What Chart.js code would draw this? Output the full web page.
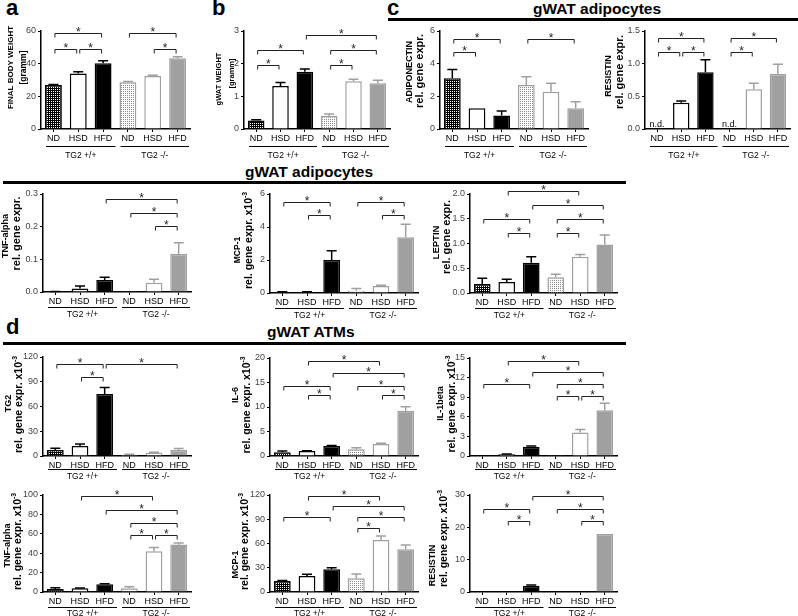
<!DOCTYPE html>
<html>
<head>
<meta charset="utf-8">
<script src="https://cdn.jsdelivr.net/npm/chart.js@4.4.0/dist/chart.umd.min.js"></script>
<style>
  body { margin: 0; width: 798px; height: 616px; background: #fff; position: relative; overflow: hidden;
         font-family: 'Liberation Sans', Arial, sans-serif; }
  canvas { position: absolute; }
  .lbl { position: absolute; font-weight: bold; line-height: 1; color: #000; white-space: nowrap; }
  .rule { position: absolute; height: 3px; background: #000; }
</style>
</head>
<body>
<div class="lbl" style="left:6px;top:-3px;font-size:22px">a</div>
<div class="lbl" style="left:212px;top:-3px;font-size:22px">b</div>
<div class="lbl" style="left:387px;top:-3px;font-size:22px">c</div>
<div class="lbl" style="left:6px;top:316px;font-size:22px">d</div>
<div class="lbl" style="left:533px;top:1px;font-size:15.5px">gWAT adipocytes</div>
<div class="lbl" style="left:245px;top:164px;font-size:15.5px">gWAT adipocytes</div>
<div class="lbl" style="left:267px;top:324px;font-size:15.5px">gWAT ATMs</div>
<div class="rule" style="left:388px;top:18px;width:410px"></div>
<div class="rule" style="left:3px;top:181px;width:623px"></div>
<div class="rule" style="left:3px;top:342px;width:623px"></div>

<script>
const categories = ['ND', 'HSD', 'HFD', 'ND', 'HSD', 'HFD'];
const genotypes = ['TG2 +/+', 'TG2 -/-'];

// significance brackets: [from bar, to bar, height in axis units]
const bodyWeight = [27.0, 34.0, 40.2, 28.6, 32.5, 43.3];
const bodyWeightSem = [0.3, 1.0, 1.6, 0.5, 0.4, 1.0];
const bodyWeightSig = [[0, 2, 58.6], [0, 1, 49], [1, 2, 49], [3, 5, 58.6], [4, 5, 49]];

const gwatWeight = [0.26, 1.32, 1.75, 0.40, 1.46, 1.40];
const gwatWeightSem = [0.02, 0.10, 0.09, 0.06, 0.06, 0.09];
const gwatWeightSig = [[2, 5, 2.88], [0, 2, 2.42], [0, 1, 1.97], [3, 5, 2.42], [3, 4, 1.97]];

const adiponectin = [3.10, 1.27, 0.82, 2.69, 2.28, 1.27];
const adiponectinSem = [0.55, 0, 0.28, 0.51, 0.52, 0.40];
const adiponectinSig = [[0, 2, 5.49], [0, 1, 4.73], [3, 5, 5.49]];

const resistinAdipo = [null, 0.40, 0.87, null, 0.61, 0.84];
const resistinAdipoSem = [0, 0.03, 0.19, 0, 0.09, 0.15];
const resistinAdipoSig = [[0, 2, 1.39], [0, 1, 1.18], [1, 2, 1.18], [3, 5, 1.39], [3, 4, 1.18]];

const tnfAdipo = [0.001, 0.011, 0.037, 0.0005, 0.028, 0.116];
const tnfAdipoSem = [0.0005, 0.007, 0.008, 0, 0.011, 0.035];
const tnfAdipoSig = [[2, 5, 0.284], [3, 5, 0.243], [4, 5, 0.202]];

const mcpAdipo = [0.05, 0.05, 2.0, 0.14, 0.42, 3.38];
const mcpAdipoSem = [0.02, 0.02, 0.56, 0.14, 0.05, 0.78];
const mcpAdipoSig = [[0, 2, 5.53], [1, 2, 4.73], [3, 5, 5.53], [4, 5, 4.73]];

const leptin = [0.18, 0.22, 0.61, 0.32, 0.73, 0.98];
const leptinSem = [0.12, 0.06, 0.12, 0.06, 0.05, 0.19];
const leptinSig = [[1, 4, 2.06], [2, 5, 1.78], [0, 2, 1.49], [1, 2, 1.22], [3, 5, 1.49], [3, 4, 1.22]];

const tg2 = [7.3, 12.1, 75.2, 1.6, 4.0, 7.3];
const tg2Sem = [2.0, 2.4, 7.8, 0.4, 0.5, 1.7];
const tg2Sig = [[0, 2, 111.5], [2, 5, 111.5], [1, 2, 95.4]];

const il6 = [0.75, 1.0, 2.04, 1.37, 2.45, 9.25];
const il6Sem = [0.25, 0.08, 0.12, 0.33, 0.15, 0.82];
const il6Sig = [[1, 4, 19.4], [2, 5, 17.0], [0, 2, 14.3], [3, 5, 14.3], [1, 2, 12.4], [4, 5, 12.4]];

const il1b = [0.02, 0.26, 1.43, 0.02, 3.6, 7.0];
const il1bSem = [0, 0.03, 0.1, 0, 0.46, 1.07];
const il1bSig = [[1, 4, 14.6], [2, 5, 12.85], [0, 2, 11.0], [3, 5, 11.0], [3, 4, 9.2], [4, 5, 9.2]];

const tnfAtm = [3.1, 3.8, 7.9, 3.8, 42, 48.9];
const tnfAtmSem = [1.3, 0.4, 0.6, 1.6, 3.8, 1.7];
const tnfAtmSig = [[1, 4, 98.5], [2, 5, 84.1], [3, 5, 71.5], [3, 4, 58.5], [4, 5, 58.5]];

const mcpAtm = [13.6, 19.8, 28.1, 17, 64.4, 52.8];
const mcpAtmSem = [0.5, 2.1, 1.9, 5.3, 4.9, 5.4];
const mcpAtmSig = [[1, 4, 118.8], [2, 5, 106.8], [0, 2, 93.2], [3, 5, 93.2], [3, 4, 79.6]];

const resistinAtm = [0, 0, 1.95, 0, 0, 17.9];
const resistinAtmSem = [0, 0, 0.2, 0, 0, 0];
const resistinAtmSig = [[2, 5, 29.7], [0, 2, 25.7], [3, 5, 25.7], [1, 2, 22.0], [4, 5, 22.0]];

const FONT = "'Liberation Sans', Arial, sans-serif";
const YW = 48, PT = 16, PR = 6, XH = 34;
const rowGeom = [{ line: 17, label: 26.5 }, { line: 15, label: 23 }, { line: 13, label: 21 }, { line: 15, label: 21.5 }];

function hatch(bg, fg, dots) {
    const c = document.createElement('canvas');
    c.width = 4; c.height = 4;
    const g = c.getContext('2d');
    g.fillStyle = bg; g.fillRect(0, 0, 4, 4);
    g.fillStyle = fg;
    dots.forEach(d => g.fillRect(d[0], d[1], 1, 1));
    return g.createPattern(c, 'repeat');
}
const grid4 = [[0, 0], [2, 0], [0, 2], [2, 2]];
const fills = [hatch('#000', '#fff', grid4), '#fff', '#000', hatch('#fff', '#8a8a8a', grid4), '#fff', '#a0a0a0'];
const edges = ['#000', '#000', '#000', '#a0a0a0', '#a0a0a0', '#a0a0a0'];

// titles: [text, font size, x offset from axis, y offset from plot centre, superscript]
const panels = [
    { id: 'a', values: bodyWeight, sem: bodyWeightSem, sig: bodyWeightSig, row: 0,
      axisX: 41, top: 31, zero: 129, right: 190, max: 60, step: 20, dec: 0,
      titles: [['FINAL BODY WEIGHT', 8, -30.5, -12.5], ['[gramm]', 8.5, -17, -12.5]] },
    { id: 'b', values: gwatWeight, sem: gwatWeightSem, sig: gwatWeightSig, row: 0,
      axisX: 244, top: 31, zero: 129, right: 390, max: 3, step: 1, dec: 0,
      titles: [['gWAT WEIGHT', 7.5, -25, -1], ['[gramm]', 7.5, -12, -6.5]] },
    { id: 'adipo', values: adiponectin, sem: adiponectinSem, sig: adiponectinSig, row: 0,
      axisX: 440, top: 31, zero: 129, right: 588, max: 6, step: 2, dec: 0,
      titles: [['ADIPONECTIN', 9, -30.5, -8], ['rel. gene expr.', 11, -20, -9]] },
    { id: 'resA', values: resistinAdipo, sem: resistinAdipoSem, sig: resistinAdipoSig, row: 0,
      axisX: 645, top: 31, zero: 129, right: 790, max: 1.5, step: 0.5, dec: 1,
      titles: [['RESISTIN', 9, -36, -4], ['rel. gene expr.', 11, -25, -8]] },
    { id: 'tnfA', values: tnfAdipo, sem: tnfAdipoSem, sig: tnfAdipoSig, row: 1,
      axisX: 43, top: 194, zero: 292, right: 191, max: 0.3, step: 0.1, dec: 1,
      titles: [['TNF-alpha', 9, -37, -7], ['rel. gene expr.', 11, -26, -9.5]] },
    { id: 'mcpA', values: mcpAdipo, sem: mcpAdipoSem, sig: mcpAdipoSig, row: 1,
      axisX: 270, top: 194, zero: 293, right: 418, max: 6, step: 2, dec: 0,
      titles: [['MCP-1', 8.5, -32.5, 6.5], ['rel. gene expr. x10', 10.5, -21, -3, '-3']] },
    { id: 'lep', values: leptin, sem: leptinSem, sig: leptinSig, row: 1,
      axisX: 470, top: 194, zero: 293, right: 617, max: 2, step: 0.5, dec: 1,
      titles: [['LEPTIN', 9.5, -34, -1], ['rel. gene expr.', 11, -23, -6.5]] },
    { id: 'tg2', values: tg2, sem: tg2Sem, sig: tg2Sig, row: 2,
      axisX: 43, top: 357, zero: 456, right: 191, max: 120, step: 30, dec: 0,
      titles: [['TG2', 9, -34, -3], ['rel. gene expr. x10', 10.5, -24, -2, '-3']] },
    { id: 'il6', values: il6, sem: il6Sem, sig: il6Sig, row: 2,
      axisX: 270, top: 358, zero: 456, right: 418, max: 20, step: 5, dec: 0,
      titles: [['IL-6', 9, -34, -12], ['rel. gene expr. x10', 10.5, -22.5, -2, '-3']] },
    { id: 'il1b', values: il1b, sem: il1bSem, sig: il1bSig, row: 2,
      axisX: 470, top: 358, zero: 456, right: 617, max: 15, step: 3, dec: 0,
      titles: [['IL-1beta', 9, -29, -3.5], ['rel. gene expr. x10', 10.5, -18, -3, '-3']] },
    { id: 'tnfM', values: tnfAtm, sem: tnfAtmSem, sig: tnfAtmSig, row: 3,
      axisX: 43, top: 495, zero: 592, right: 191, max: 100, step: 20, dec: 0,
      titles: [['TNF-alpha', 9, -35.5, 2], ['rel. gene expr. x10', 10.5, -24.5, -2, '-3']] },
    { id: 'mcpM', values: mcpAtm, sem: mcpAtmSem, sig: mcpAtmSig, row: 3,
      axisX: 270, top: 495, zero: 592, right: 418, max: 120, step: 30, dec: 0,
      titles: [['MCP-1', 9, -34, 21], ['rel. gene expr. x10', 10.5, -25, -2, '-3']] },
    { id: 'resM', values: resistinAtm, sem: resistinAtmSem, sig: resistinAtmSig, row: 3,
      axisX: 470, top: 495, zero: 592, right: 617, max: 30, step: 10, dec: 0,
      titles: [['RESISTIN', 9, -37.5, 22], ['rel. gene expr. x10', 10.5, -26, -5, '-3']] }
];

const extras = {};

const annotate = {
    id: 'annotate',
    afterDraw(chart) {
        const p = extras[chart.canvas.id];
        const ctx = chart.ctx, area = chart.chartArea;
        const xs = chart.scales.x, ys = chart.scales.y;
        const geo = rowGeom[p.row];
        ctx.save();

        // error bars (upper only)
        p.values.forEach((v, i) => {
            if (v == null || !p.sem[i]) return;
            const x = xs.getPixelForValue(i);
            const y1 = ys.getPixelForValue(v), y2 = ys.getPixelForValue(v + p.sem[i]);
            ctx.strokeStyle = edges[i];
            ctx.lineWidth = 1.5;
            ctx.beginPath();
            ctx.moveTo(x, y1); ctx.lineTo(x, y2);
            ctx.moveTo(x - 5, y2); ctx.lineTo(x + 5, y2);
            ctx.stroke();
        });

        // not detected
        ctx.fillStyle = '#000';
        ctx.font = '9px ' + FONT;
        ctx.textAlign = 'center';
        ctx.textBaseline = 'alphabetic';
        p.values.forEach((v, i) => {
            if (v == null) ctx.fillText('n.d.', xs.getPixelForValue(i), area.bottom - 2);
        });

        // significance brackets
        ctx.strokeStyle = '#222';
        ctx.fillStyle = '#222';
        ctx.lineWidth = 1;
        ctx.font = '12px ' + FONT;
        p.sig.forEach(([i, j, v]) => {
            const x1 = xs.getPixelForValue(i) + 1.5, x2 = xs.getPixelForValue(j) - 1.5;
            const y = Math.round(ys.getPixelForValue(v)) + 0.5;
            ctx.beginPath();
            ctx.moveTo(x1, y + 4); ctx.lineTo(x1, y); ctx.lineTo(x2, y); ctx.lineTo(x2, y + 4);
            ctx.stroke();
            ctx.fillText('*', (x1 + x2) / 2, y + 2.5);
        });

        // genotype groups under the axis
        const w = xs.getPixelForValue(1) - xs.getPixelForValue(0);
        ctx.strokeStyle = '#000';
        ctx.fillStyle = '#000';
        ctx.font = '8.5px ' + FONT;
        ctx.textBaseline = 'middle';
        genotypes.forEach((gt, k) => {
            const l = xs.getPixelForValue(3 * k) - w / 2 + 5;
            const r = Math.min(xs.getPixelForValue(3 * k + 2) + w / 2, area.right - 1);
            const y = Math.round(area.bottom + geo.line) + 0.5;
            ctx.beginPath(); ctx.moveTo(l, y); ctx.lineTo(r, y); ctx.stroke();
            ctx.fillText(gt, (l + r) / 2, area.bottom + geo.label);
        });

        // rotated y titles
        const mid = (area.top + area.bottom) / 2;
        p.titles.forEach(([text, size, dx, dy, sup]) => {
            ctx.save();
            ctx.translate(area.left + dx, mid + dy);
            ctx.rotate(-Math.PI / 2);
            const main = 'bold ' + size + 'px ' + FONT;
            const small = 'bold ' + (size * 0.65).toFixed(1) + 'px ' + FONT;
            ctx.font = main;
            ctx.textAlign = 'left';
            ctx.textBaseline = 'middle';
            const w1 = ctx.measureText(text).width;
            let w2 = 0;
            if (sup) { ctx.font = small; w2 = ctx.measureText(sup).width; ctx.font = main; }
            const x0 = -(w1 + w2) / 2;
            ctx.fillText(text, x0, 0);
            if (sup) { ctx.font = small; ctx.fillText(sup, x0 + w1, -size * 0.4); }
            ctx.restore();
        });
        ctx.restore();
    }
};

Chart.defaults.font.family = FONT;
Chart.defaults.color = '#000';

panels.forEach(p => {
    const cv = document.createElement('canvas');
    cv.id = 'c_' + p.id;
    const W = YW + (p.right - p.axisX) + PR;
    const H = PT + (p.zero - p.top) + XH;
    cv.width = W; cv.height = H;
    cv.style.left = (p.axisX - YW) + 'px';
    cv.style.top = (p.top - PT) + 'px';
    cv.style.width = W + 'px';
    cv.style.height = H + 'px';
    document.body.appendChild(cv);
    extras[cv.id] = p;

    new Chart(cv, {
        type: 'bar',
        data: {
            labels: categories,
            datasets: [{
                data: p.values,
                backgroundColor: fills,
                borderColor: edges,
                borderWidth: 1.5,
                borderSkipped: 'bottom',
                categoryPercentage: 1,
                barPercentage: 0.68
            }]
        },
        options: {
            responsive: false,
            animation: false,
            devicePixelRatio: 1,
            layout: { padding: { top: PT, right: PR, bottom: 0, left: 0 } },
            plugins: { legend: { display: false }, tooltip: { enabled: false } },
            scales: {
                x: {
                    offset: true,
                    grid: { drawOnChartArea: false, offset: false, tickLength: 3, tickColor: '#000' },
                    border: { color: '#000', width: 1.5 },
                    ticks: { font: { size: 9 }, color: '#000', padding: 1, maxRotation: 0, autoSkip: false },
                    afterFit: s => { s.height = XH; }
                },
                y: {
                    min: 0,
                    max: p.max,
                    grid: { drawOnChartArea: false, tickLength: 3, tickColor: '#000' },
                    border: { color: '#000', width: 1.5 },
                    ticks: { stepSize: p.step, font: { size: 9 }, color: '#444', padding: 2,
                             callback: v => Number(v).toFixed(p.dec) },
                    afterFit: s => { s.width = YW; }
                }
            }
        },
        plugins: [annotate]
    });
});
</script>
</body>
</html>
